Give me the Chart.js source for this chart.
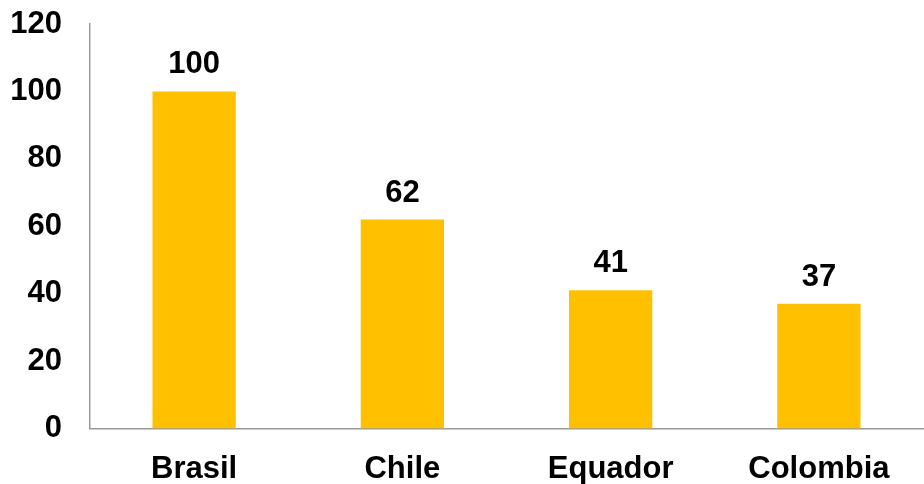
<!DOCTYPE html>
<html>
<head>
<meta charset="utf-8">
<script src="https://cdn.jsdelivr.net/npm/chart.js@4/dist/chart.umd.min.js"></script>
<style>
html,body{margin:0;padding:0;background:#fff;}
#wrap{width:924px;height:484px;position:relative;}
</style>
</head>
<body>
<div id="wrap"><canvas id="c" width="924" height="484"></canvas></div>
<script>
const categories = ["Brasil", "Chile", "Equador", "Colombia"];
const values = [100, 62, 41, 37];
const yTicks = [0, 20, 40, 60, 80, 100, 120];

const FONT = '"Liberation Sans", Arial, sans-serif';

const valueLabels = {
  id: 'valueLabels',
  afterDatasetsDraw(chart) {
    const ctx = chart.ctx;
    const meta = chart.getDatasetMeta(0);
    ctx.save();
    ctx.font = 'bold 31px ' + FONT;
    ctx.fillStyle = '#000';
    ctx.textAlign = 'center';
    ctx.textBaseline = 'alphabetic';
    meta.data.forEach((bar, i) => {
      ctx.fillText(String(values[i]), bar.x, bar.y - 18);
    });
    ctx.restore();
  }
};

new Chart(document.getElementById('c'), {
  type: 'bar',
  data: {
    labels: categories,
    datasets: [{
      data: values,
      backgroundColor: '#FFC000',
      borderWidth: 0,
      barPercentage: 0.4,
      categoryPercentage: 1.0
    }]
  },
  options: {
    responsive: false,
    animation: false,
    layout: { padding: { top: 24, right: 1, left: 0, bottom: 0 } },
    plugins: { legend: { display: false }, tooltip: { enabled: false } },
    scales: {
      x: {
        grid: { display: false, drawTicks: false },
        border: { display: true, color: '#999', width: 1.5 },
        ticks: { color: '#000', font: { family: FONT, size: 31, weight: 'bold' }, padding: 22, maxRotation: 0 },
        afterFit(s) { s.height = 55.5; s.paddingLeft = 0; s.paddingRight = 0; }
      },
      y: {
        min: 0, max: 120,
        afterBuildTicks(s) { s.ticks = yTicks.map(v => ({ value: v })); },
        grid: { display: false, drawTicks: false },
        border: { display: true, color: '#999', width: 1.5 },
        ticks: { color: '#000', font: { family: FONT, size: 31, weight: 'bold' }, padding: 28 },
        afterFit(s) { s.width = 90; s.paddingTop = 0; s.paddingBottom = 0; }
      }
    }
  },
  plugins: [valueLabels]
});
</script>
</body>
</html>
